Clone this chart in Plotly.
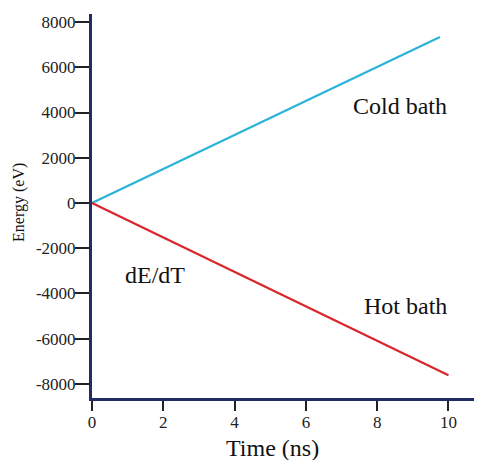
import plotly.graph_objects as go

cold_time = [0, 9.76]
cold_energy = [0, 7340]
hot_time = [0, 10]
hot_energy = [0, -7620]

x_ticks = [0, 2, 4, 6, 8, 10]
y_ticks = [8000, 6000, 4000, 2000, 0, -2000, -4000, -6000, -8000]
y_tick_labels = ["8000", "6000", "4000", "2000", "0", "-2000", "-4000", "-6000", "-8000"]

annotations_text = ["Cold bath", "Hot bath", "dE/dT"]
annotations_x = [8.64, 8.78, 1.77]
annotations_y = [4290, -4550, -3190]

x_title = "Time (ns)"
y_title = "Energy (eV)"

FONT = "Liberation Serif, Times New Roman, serif"
AXIS_COLOR = "#1f2c66"

fig = go.Figure()
fig.add_trace(go.Scatter(x=cold_time, y=cold_energy, mode="lines",
                         line=dict(color="#2bb3d9", width=2.2), showlegend=False))
fig.add_trace(go.Scatter(x=hot_time, y=hot_energy, mode="lines",
                         line=dict(color="#d9262b", width=2.2), showlegend=False))

for t, x, y in zip(annotations_text, annotations_x, annotations_y):
    fig.add_annotation(x=x, y=y, text=t, showarrow=False,
                       font=dict(family=FONT, size=24, color="#111"))

# axis titles placed as annotations for exact positioning
fig.add_annotation(x=5.05, xref="x", y=0, yref="paper", yanchor="top", yshift=-35,
                   text=x_title, showarrow=False,
                   font=dict(family=FONT, size=24, color="#111"))
fig.add_annotation(x=0, xref="paper", xanchor="center", xshift=-73, y=0, yref="y",
                   text=y_title, textangle=-90, showarrow=False,
                   font=dict(family=FONT, size=16, color="#111"))

# page body has an 8px margin, so the figure is sized to fill the remaining window
fig.update_layout(
    width=474, height=452,
    margin=dict(l=84, r=0, t=6, b=62),
    paper_bgcolor="white", plot_bgcolor="white",
    font=dict(family=FONT, color="#222"),
    xaxis=dict(range=[0, 10.94], tickvals=x_ticks, showgrid=False, zeroline=False,
               showline=True, linecolor=AXIS_COLOR, linewidth=3, automargin=False,
               ticks="outside", ticklen=10, tickwidth=2, tickcolor="#222",
               ticklabelstandoff=-3,
               tickfont=dict(size=17, family=FONT)),
    yaxis=dict(range=[-8630, 8360], tickvals=y_ticks, ticktext=y_tick_labels,
               showgrid=False, zeroline=False,
               showline=True, linecolor=AXIS_COLOR, linewidth=3, automargin=False,
               ticks="outside", ticklen=14, tickwidth=2, tickcolor="#222",
               ticklabelstandoff=-4,
               tickfont=dict(size=17, family=FONT)),
)

fig.write_html("out.html")
